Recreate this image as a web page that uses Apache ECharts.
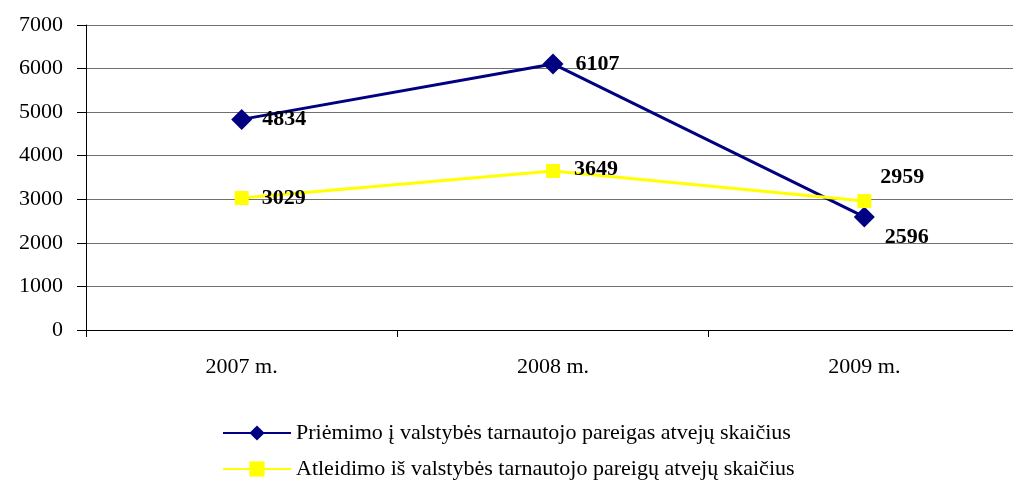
<!DOCTYPE html>
<html><head><meta charset="utf-8">
<script src="https://cdn.jsdelivr.net/npm/echarts@6/dist/echarts.min.js"></script>
<style>html,body{margin:0;padding:0;background:#fff}#c{width:1013px;height:482px}</style>
</head><body><div id="c"></div>
<script>
const categories = ['2007 m.', '2008 m.', '2009 m.'];
const seriesNames = ['Priėmimo į valstybės tarnautojo pareigas atvejų skaičius', 'Atleidimo iš valstybės tarnautojo pareigų atvejų skaičius'];
const hired = [4834, 6107, 2596];
const dismissed = [3029, 3649, 2959];
const yTicks = [0, 1000, 2000, 3000, 4000, 5000, 6000, 7000];

const font = 'Liberation Serif, Times New Roman, serif';
const fs = 22;
const lblStyle = {fontFamily: font, fontSize: fs, fontWeight: 'bold', color: '#000'};
const chart = echarts.init(document.getElementById('c'));
chart.setOption({
  animation: false,
  grid: {left: 86, width: 934, top: 25, height: 305, outerBoundsMode: 'none', containLabel: false},
  legend: {
    orient: 'vertical', left: 222, top: 422, height: 60, itemGap: 14, padding: 0,
    itemWidth: 68, itemHeight: 19,
    textStyle: {fontFamily: font, fontSize: fs, color: '#000', padding: [0, 0, 0, 0]}
  },
  xAxis: {
    type: 'category', data: categories, boundaryGap: true,
    axisLine: {lineStyle: {color: '#000', width: 1}},
    axisTick: {show: true, length: 7, lineStyle: {color: '#000'}},
    axisLabel: {fontFamily: font, fontSize: fs, color: '#000', margin: 26}
  },
  yAxis: {
    type: 'value', min: yTicks[0], max: yTicks[yTicks.length - 1], interval: 1000,
    axisLine: {show: true, lineStyle: {color: '#000'}},
    axisTick: {show: true, length: 9, lineStyle: {color: '#000'}},
    axisLabel: {fontFamily: font, fontSize: fs, color: '#000', margin: 23, formatter: v => String(v)},
    splitLine: {lineStyle: {color: '#707070', width: 1}}
  },
  series: [
    {
      name: seriesNames[0], type: 'line', data: hired,
      symbol: 'diamond', symbolSize: 21,
      lineStyle: {color: '#000080', width: 3},
      itemStyle: {color: '#000080'},
      label: {show: true, position: 'right', distance: 10, ...lblStyle,
        formatter: p => String(p.value)},
      labelLayout: p => p.dataIndex === 2 ? {dx: 0, dy: 20} : (p.dataIndex === 1 ? {dx: 2} : {dy: 0})
    },
    {
      name: seriesNames[1], type: 'line', data: dismissed,
      symbol: 'rect', symbolSize: 14,
      lineStyle: {color: '#FFFF00', width: 3},
      itemStyle: {color: '#FFFF00'},
      label: {show: true, position: 'right', distance: 10, ...lblStyle,
        formatter: p => String(p.value)},
      labelLayout: p => p.dataIndex === 2 ? {dx: -1, dy: -24} : (p.dataIndex === 1 ? {dx: 4, dy: -2} : {dx: 3, dy: 0})
    }
  ]
});
</script></body></html>
